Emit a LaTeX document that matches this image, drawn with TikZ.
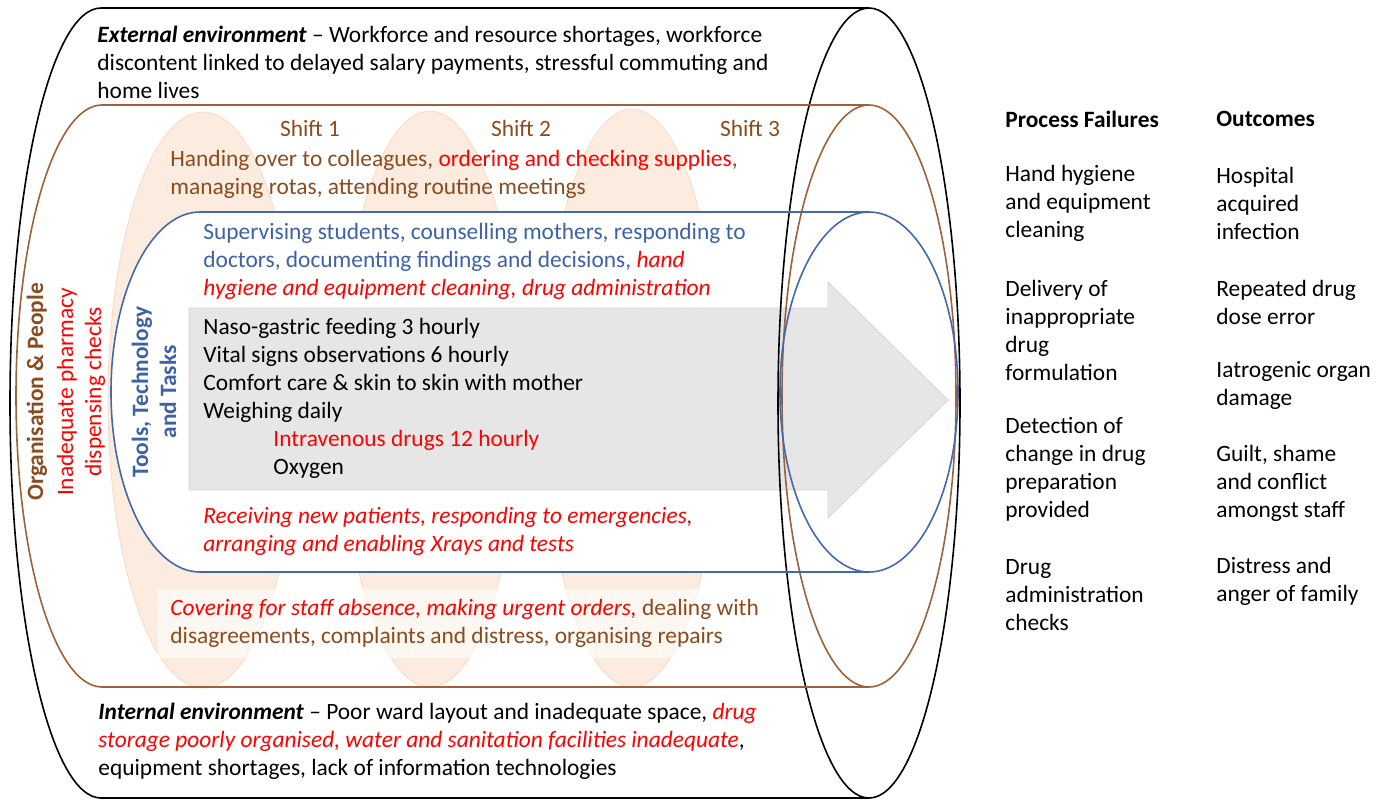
\documentclass[tikz,border=0pt]{standalone}
\usepackage{fontspec}
\setmainfont{Carlito}
\usepackage{tikz}
\usetikzlibrary{shapes,arrows}
\definecolor{ppbrown}{HTML}{8A4B1F}
\definecolor{ppbrownline}{HTML}{A0603A}
\definecolor{ppblue}{HTML}{3F62A6}
\definecolor{ppblueline}{HTML}{4468AC}
\definecolor{pppeach}{HTML}{FCEBDF}
\definecolor{pppeachline}{HTML}{F9DAC4}
\definecolor{ppgrey}{HTML}{E7E6E6}
\definecolor{ppgreyline}{HTML}{D6D5D5}
\definecolor{ppred}{HTML}{FF0000}
\tikzstyle{txt} = [inner sep=0pt, anchor=west, align=left, font=\fontsize{11.7}{14}\selectfont]
\tikzstyle{shiftoval} = [fill=pppeach, draw=pppeachline, line width=0.4pt]
\tikzstyle{can} = [line width=0.8pt]
\newcommand{\rd}[1]{\textcolor{ppred}{#1}}
\newcommand{\rdi}[1]{\textcolor{ppred}{\itshape #1}}

\begin{document}
\begin{tikzpicture}[x=0.5pt, y=-0.5pt]
	\useasboundingbox (0,0) rectangle (1386,799);
	% shifts
	\draw [shiftoval] (203,400) ellipse [x radius=95, y radius=288];
	\draw [shiftoval] (430,399) ellipse [x radius=89, y radius=288];
	\draw [shiftoval] (632,398) ellipse [x radius=88, y radius=289];
	% inner cylinder background
	\fill [white] (200,212) arc [start angle=-90, end angle=-270, x radius=89, y radius=180]
		-- (869,572) arc [start angle=90, end angle=-90, x radius=89, y radius=180] -- cycle;
	\fill [white, opacity=0.6] (158,589) rectangle (765,658);
	% tasks arrow
	\draw [fill=ppgrey, draw=ppgreyline] (189,308) -- (828,308) -- (828,282) -- (948,400)
		-- (828,518) -- (828,490) -- (189,490) -- cycle;
	% cylinders
	\draw [can, black] (101,8) arc [start angle=-90, end angle=-270, x radius=91, y radius=395]
		-- (869,798) (101,8) -- (869,8) (869,403) ellipse [x radius=91, y radius=395];
	\draw [can, ppbrownline] (102,105) arc [start angle=-90, end angle=-270, x radius=86, y radius=291]
		-- (869,687) (102,105) -- (869,105) (869,396) ellipse [x radius=87, y radius=291];
	\draw [can, ppblueline] (200,212) arc [start angle=-90, end angle=-270, x radius=89, y radius=180]
		-- (869,572) (200,212) -- (869,212) (869,392) ellipse [x radius=89, y radius=180];

	% texts
	\node [txt] (external) at (97,62) {\textbf{\textit{External environment}} -- Workforce and resource shortages, workforce\\discontent linked to delayed salary payments, stressful commuting and\\home lives};
	\node [txt, text=ppbrown, anchor=center] (shift1) at (310,128) {Shift 1};
	\node [txt, text=ppbrown, anchor=center] (shift2) at (521,128) {Shift 2};
	\node [txt, text=ppbrown, anchor=center] (shift3) at (750,128) {Shift 3};
	\node [txt, text=ppbrown] (handing) at (170,174) {Handing over to colleagues, \rd{ordering and checking supplies},\\managing rotas, attending routine meetings};
	\node [txt, text=ppblue] (supervising) at (203,261) {Supervising students, counselling mothers, responding to\\doctors, documenting findings and decisions, \rdi{hand}\\\rdi{hygiene and equipment cleaning, drug administration}};
	\node [txt] (tasks) at (203,398) {Naso-gastric feeding 3 hourly\\Vital signs observations 6 hourly\\Comfort care \& skin to skin with mother\\Weighing daily\\\hspace*{35pt}\rd{Intravenous drugs 12 hourly}\\\hspace*{35pt}Oxygen};
	\node [txt, text=ppred, font=\fontsize{11.7}{14}\selectfont\itshape] (receiving) at (203,531) {Receiving new patients, responding to emergencies,\\arranging and enabling Xrays and tests};
	\node [txt, text=ppbrown] (covering) at (170,623) {\rdi{Covering for staff absence, making urgent orders,} dealing with\\disagreements, complaints and distress, organising repairs};
	\node [txt] (internal) at (98,741) {\textbf{\textit{Internal environment}} -- Poor ward layout and inadequate space, \rdi{drug}\\\rdi{storage poorly organised, water and sanitation facilities inadequate},\\equipment shortages, lack of information technologies};
	\node [txt, rotate=90, anchor=center, text=ppbrown, font=\fontsize{11.7}{14}\selectfont\bfseries] (organisation) at (37,392) {Organisation \& People};
	\node [txt, rotate=90, anchor=center, text=ppred, align=center] (pharmacy) at (81,392) {Inadequate pharmacy\\dispensing checks};
	\node [txt, rotate=90, anchor=center, text=ppblue, align=center, font=\fontsize{11.7}{14}\selectfont\bfseries] (tools) at (154,392) {Tools, Technology\\and Tasks};

	% right columns
	\node [txt, font=\fontsize{11.7}{14}\selectfont\bfseries] (failures) at (1005,119) {Process Failures};
	\node [txt] (f1) at (1005,203) {Hand hygiene\\and equipment\\cleaning};
	\node [txt] (f2) at (1005,330) {Delivery of\\inappropriate\\drug\\formulation};
	\node [txt] (f3) at (1005,469) {Detection of\\change in drug\\preparation\\provided};
	\node [txt] (f4) at (1005,595) {Drug\\administration\\checks};
	\node [txt, font=\fontsize{11.7}{14}\selectfont\bfseries] (outcomes) at (1216,119) {Outcomes};
	\node [txt] (o1) at (1216,203) {Hospital\\acquired\\infection};
	\node [txt] (o2) at (1216,302) {Repeated drug\\dose error};
	\node [txt] (o3) at (1216,385) {Iatrogenic organ\\damage};
	\node [txt] (o4) at (1216,483) {Guilt, shame\\and conflict\\amongst staff};
	\node [txt] (o5) at (1216,581) {Distress and\\anger of family};
\end{tikzpicture}
\end{document}
